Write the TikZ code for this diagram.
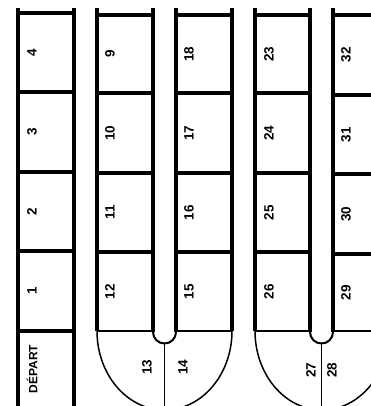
\documentclass[tikz,border=0pt]{standalone}
\usepackage{fontspec}
\setmainfont{Liberation Sans}
\begin{document}
\begin{tikzpicture}[x=1pt,y=-1pt,
  wall/.style={line width=3.2pt},
  thinwall/.style={line width=1.5pt},
  pillarc/.style={line width=2pt},
  lbl/.style={font=\bfseries\fontsize{13.5}{13.5}\selectfont, rotate=90, inner sep=0pt},
  deplbl/.style={font=\bfseries\fontsize{12}{12}\selectfont, rotate=90, inner sep=0pt}]
\clip (0,0) rectangle (371,406);
% column 1
\draw[wall] (18,8) -- (18,406);
\draw[wall] (74,8) -- (74,406);
\foreach \y in {13,92,172,251,331} \draw[wall] (18,\y) -- (74,\y);
% columns 2-3
\draw[wall] (97,8) -- (97,331);
\draw[wall] (153,8) -- (153,332);
\draw[wall] (176,8) -- (176,332);
\draw[wall] (232,8) -- (232,331);
\foreach \y in {15,93,173,252} {\draw[wall] (97,\y) -- (153,\y); \draw[wall] (176,\y) -- (232,\y);}
\draw[thinwall] (97,331) -- (153,331);
\draw[thinwall] (176,331) -- (232,331);
\draw[pillarc] (153,332) arc[start angle=180, end angle=360, radius=11.5pt];
\draw[thinwall] (97,331) arc[start angle=180, end angle=360, x radius=67.5pt, y radius=79pt];
\draw[thinwall] (164.5,343.5) -- (164.5,406);
% columns 4-5
\draw[wall] (255,8) -- (255,331);
\draw[wall] (310,8) -- (310,332);
\draw[wall] (333,8) -- (333,332);
\draw[wall] (389,8) -- (389,331);
\foreach \y in {15,93,173,252} \draw[wall] (255,\y) -- (310,\y);
\foreach \y in {15,95,174,254} \draw[wall] (333,\y) -- (389,\y);
\draw[thinwall] (255,331) -- (310,331);
\draw[thinwall] (333,331) -- (389,331);
\draw[pillarc] (310,332) arc[start angle=180, end angle=360, radius=11.5pt];
\draw[thinwall] (255,331) arc[start angle=180, end angle=360, x radius=67pt, y radius=79pt];
\draw[thinwall] (321.5,343.5) -- (321.5,406);
% labels
\node[lbl] (n4) at (32,52.5) {4};
\node[lbl] (n3) at (32,132) {3};
\node[lbl] (n2) at (32,211.5) {2};
\node[lbl] (n1) at (32,291) {1};
\node[deplbl] (dep) at (32,369) {DÉPART};
\node[lbl] (n9) at (110,54) {9};
\node[lbl] (n10) at (110,133) {10};
\node[lbl] (n11) at (110,212.5) {11};
\node[lbl] (n12) at (110,291.5) {12};
\node[lbl] (n18) at (189,54) {18};
\node[lbl] (n17) at (189,133) {17};
\node[lbl] (n16) at (189,212.5) {16};
\node[lbl] (n15) at (189,291.5) {15};
\node[lbl] (n13) at (147,367) {13};
\node[lbl] (n14) at (183,367) {14};
\node[lbl] (n23) at (269,54) {23};
\node[lbl] (n24) at (269,133) {24};
\node[lbl] (n25) at (269,212.5) {25};
\node[lbl] (n26) at (269,291.5) {26};
\node[lbl] (n32) at (346,55) {32};
\node[lbl] (n31) at (346,134.5) {31};
\node[lbl] (n30) at (346,214) {30};
\node[lbl] (n29) at (346,292.5) {29};
\node[lbl] (n27) at (311,370) {27};
\node[lbl] (n28) at (332,370) {28};
\end{tikzpicture}
\end{document}
